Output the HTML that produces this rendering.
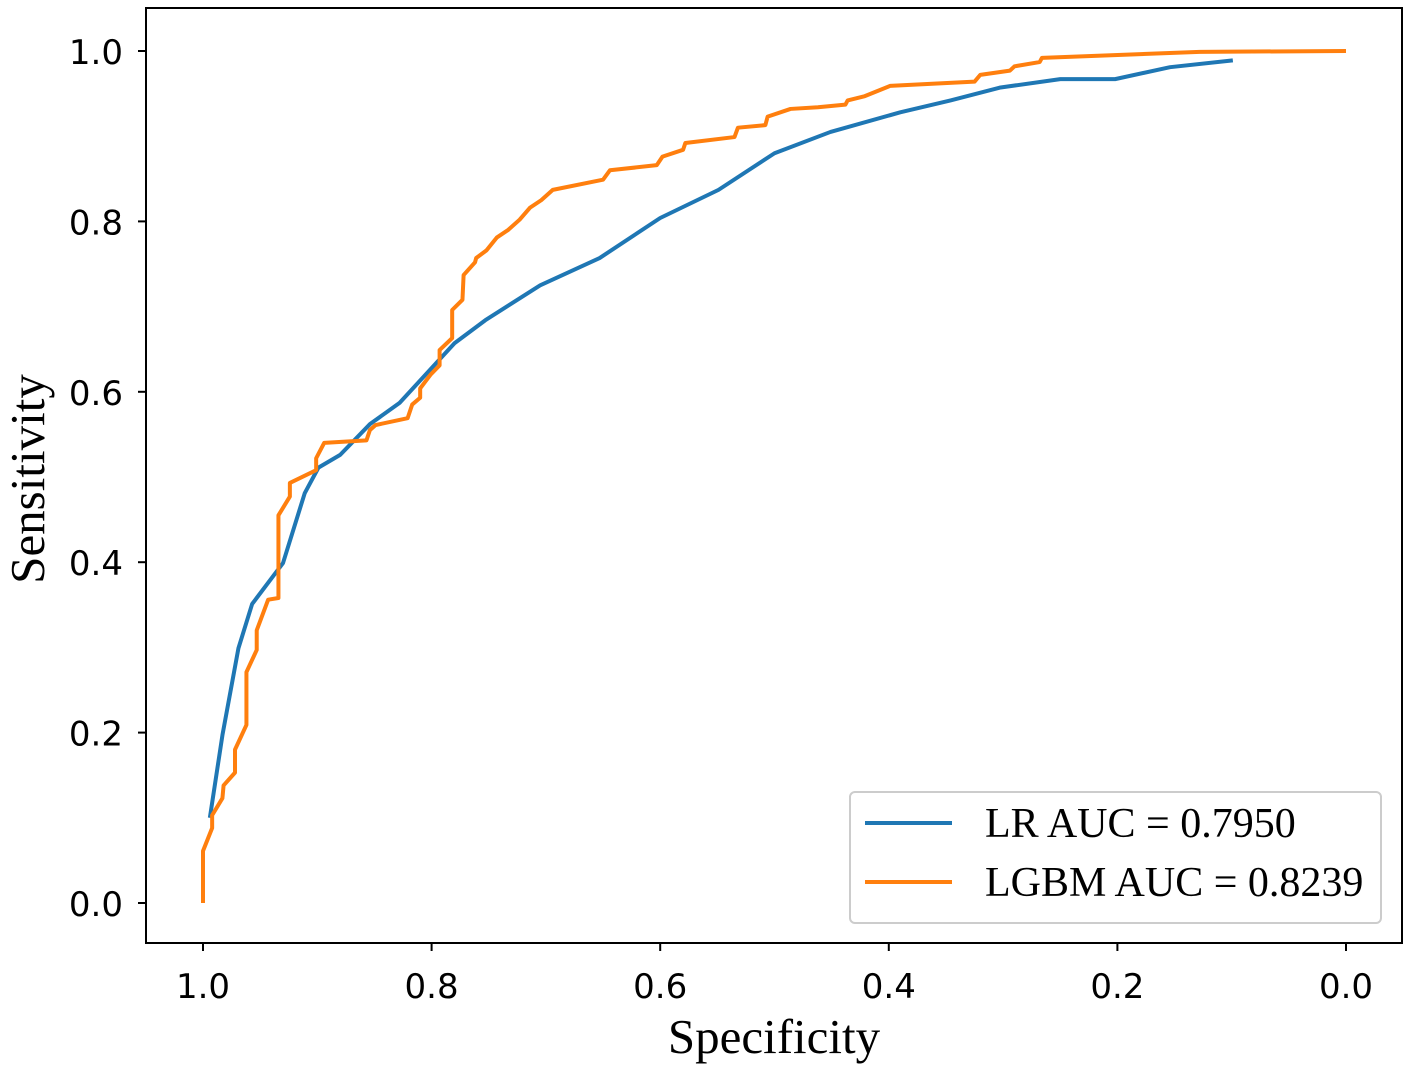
<!DOCTYPE html>
<html><head><meta charset="utf-8"><style>
html,body{margin:0;padding:0;background:#fff;}
svg{display:block;}
.tick{font-family:"DejaVu Sans","Liberation Sans",sans-serif;font-size:34px;fill:#000;}
.title{font-family:"Liberation Serif",serif;font-size:49px;fill:#000;}
.leg{font-family:"Liberation Serif",serif;font-size:42px;fill:#000;}
</style></head><body>
<svg id="chart" width="1417" height="1072" viewBox="0 0 1417 1072">
<rect x="146" y="8" width="1256" height="935" fill="none" stroke="#000" stroke-width="2"/>
<g id="xt"></g>
<g id="yt"></g>
<g id="lines"></g>
<text class="title" x="774" y="1053" text-anchor="middle">Specificity</text>
<text class="title" transform="translate(44,479) rotate(-90)" text-anchor="middle">Sensitivity</text>
<g>
<rect x="850" y="792" width="531" height="131" rx="5" fill="#fff" stroke="#ccc" stroke-width="2"/>
<line x1="865" y1="823" x2="952" y2="823" stroke="#1f77b4" stroke-width="4"/>
<text class="leg" x="985" y="837">LR AUC = 0.7950</text>
<line x1="865" y1="882" x2="952" y2="882" stroke="#ff7f0e" stroke-width="4"/>
<text class="leg" x="985" y="896">LGBM AUC = 0.8239</text>
</g>
</svg>
<script>
const xTicks=[1.0,0.8,0.6,0.4,0.2,0.0];
const yTicks=[0.0,0.2,0.4,0.6,0.8,1.0];
const lrSpec=[0.994,0.983,0.969,0.957,0.930,0.911,0.899,0.880,0.854,0.828,0.780,0.753,0.705,0.653,0.600,0.549,0.500,0.451,0.390,0.346,0.303,0.250,0.202,0.154,0.099];
const lrSens=[0.100,0.197,0.299,0.351,0.399,0.481,0.511,0.526,0.562,0.587,0.657,0.684,0.725,0.757,0.804,0.837,0.880,0.905,0.928,0.942,0.957,0.967,0.967,0.981,0.989];
const gbSpec=[1.000,1.000,0.992,0.992,0.983,0.982,0.972,0.972,0.962,0.962,0.953,0.953,0.943,0.934,0.934,0.924,0.924,0.901,0.901,0.894,0.857,0.854,0.849,0.821,0.817,0.810,0.810,0.801,0.793,0.793,0.782,0.782,0.773,0.772,0.762,0.761,0.752,0.743,0.733,0.723,0.714,0.704,0.694,0.650,0.644,0.603,0.598,0.580,0.578,0.535,0.532,0.508,0.506,0.486,0.462,0.438,0.436,0.421,0.399,0.325,0.320,0.294,0.290,0.268,0.266,0.128,0.000];
const gbSens=[0.000,0.061,0.088,0.103,0.123,0.138,0.153,0.180,0.209,0.271,0.297,0.320,0.356,0.358,0.455,0.477,0.493,0.508,0.522,0.540,0.543,0.555,0.561,0.569,0.585,0.593,0.604,0.620,0.631,0.649,0.663,0.696,0.708,0.737,0.752,0.757,0.766,0.781,0.790,0.802,0.816,0.825,0.837,0.849,0.860,0.866,0.876,0.884,0.892,0.899,0.910,0.913,0.923,0.932,0.934,0.937,0.942,0.947,0.959,0.964,0.972,0.977,0.982,0.987,0.992,0.999,1.000];
const NS='http://www.w3.org/2000/svg';
function xs(v){return 203+(1-v)*1143;}
function ys(v){return 903-v*852;}
const xt=document.getElementById('xt'),yt=document.getElementById('yt'),lg=document.getElementById('lines');
xTicks.forEach(t=>{
  const l=document.createElementNS(NS,'line');
  l.setAttribute('x1',xs(t));l.setAttribute('x2',xs(t));l.setAttribute('y1',943);l.setAttribute('y2',951);l.setAttribute('stroke','#000');l.setAttribute('stroke-width',2);
  
  
  xt.appendChild(l);
  const s=document.createElementNS(NS,'text');
  s.setAttribute('x',xs(t));s.setAttribute('y',998);s.setAttribute('text-anchor','middle');s.setAttribute('class','tick');s.textContent=t.toFixed(1);
  
  
  xt.appendChild(s);
});
yTicks.forEach(t=>{
  const l=document.createElementNS(NS,'line');
  l.setAttribute('x1',138);l.setAttribute('x2',146);l.setAttribute('y1',ys(t));l.setAttribute('y2',ys(t));l.setAttribute('stroke','#000');l.setAttribute('stroke-width',2);
  
  
  yt.appendChild(l);
  const s=document.createElementNS(NS,'text');
  s.setAttribute('x',123);s.setAttribute('y',ys(t)+13);s.setAttribute('text-anchor','end');s.setAttribute('class','tick');s.textContent=t.toFixed(1);
  
  
  yt.appendChild(s);
});
function path(sp,se,color,name){
  const p=document.createElementNS(NS,'polyline');
  p.setAttribute('points',sp.map((v,i)=>xs(v)+','+ys(se[i])).join(' '));
  p.setAttribute('fill','none');p.setAttribute('stroke',color);p.setAttribute('stroke-width',4);p.setAttribute('stroke-linejoin','round');
  
  
  lg.appendChild(p);
}
path(lrSpec,lrSens,'#1f77b4','lr-roc-curve');
path(gbSpec,gbSens,'#ff7f0e','lgbm-roc-curve');
</script>
</body></html>
